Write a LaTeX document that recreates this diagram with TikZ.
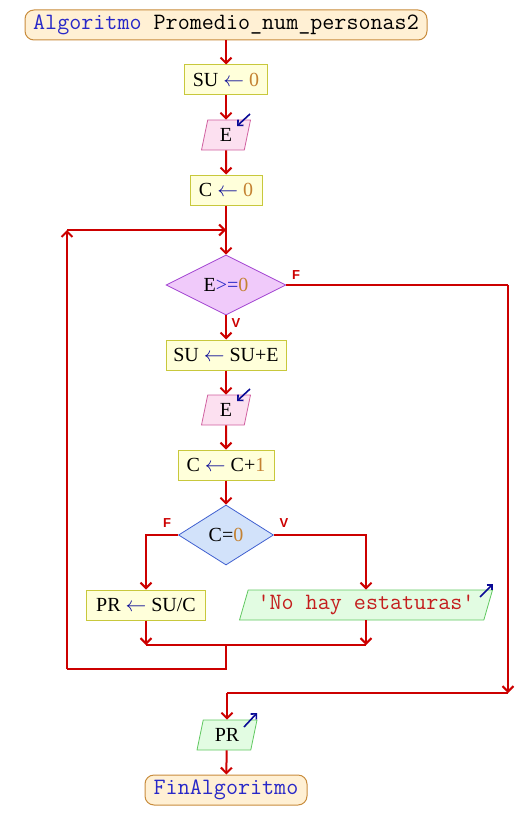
\documentclass[tikz,border=0pt]{standalone}
\usepackage{fontspec}
\setmainfont{Liberation Serif}
\setsansfont{Liberation Sans}
\usetikzlibrary{arrows.meta,shapes.geometric}

\definecolor{flowred}{RGB}{204,0,0}
\definecolor{termfill}{RGB}{255,240,212}
\definecolor{termline}{RGB}{200,140,60}
\definecolor{procfill}{RGB}{255,255,218}
\definecolor{procline}{RGB}{200,200,60}
\definecolor{infill}{RGB}{252,224,240}
\definecolor{inline}{RGB}{208,96,160}
\definecolor{outfill}{RGB}{226,252,226}
\definecolor{outline}{RGB}{96,200,96}
\definecolor{condfill}{RGB}{240,202,250}
\definecolor{condline}{RGB}{160,64,208}
\definecolor{condbfill}{RGB}{210,226,250}
\definecolor{condbline}{RGB}{64,96,208}
\definecolor{kwblue}{RGB}{40,40,200}
\definecolor{arrblue}{RGB}{10,10,150}
\definecolor{numc}{RGB}{196,130,50}
\definecolor{strred}{RGB}{196,30,30}

\newcommand{\asg}{\textcolor{arrblue}{$\leftarrow$}}

\begin{document}
\begin{tikzpicture}[x=1pt,y=-1pt,
  font=\fontsize{20}{24}\selectfont,
  flow/.style={flowred,line width=2pt,-{Straight Barb[length=5.5pt,width=11pt]}},
  wire/.style={flowred,line width=2pt},
  ioarrow/.style={arrblue,line width=1.6pt,-{Straight Barb[length=4pt,width=8pt]}},
  code/.style={font=\fontsize{23.4}{28}\ttfamily},
  term/.style={draw=termline,fill=termfill,rounded corners=9pt,line width=1pt,minimum height=30pt,inner sep=2pt,code},
  proc/.style={draw=procline,fill=procfill,line width=1pt,minimum height=30pt,inner sep=2pt},
  inbox/.style={trapezium,trapezium left angle=70,trapezium right angle=110,trapezium stretches body,draw=inline,fill=infill,line width=0.8pt,minimum height=30pt,inner sep=2pt},
  outbox/.style={inbox,draw=outline,fill=outfill},
  cond/.style={diamond,aspect=2,draw=condline,fill=condfill,line width=0.8pt,inner sep=0pt},
  tf/.style={flowred,font=\fontsize{13}{13}\sffamily\bfseries}]
  \useasboundingbox (0,0) rectangle (516,840); % Fix the page size

  \node (start) at (226,25) [term,minimum width=402pt] {\textcolor{kwblue}{Algoritmo} Promedio\_num\_personas2}; % Start
  \node (su0) at (226,80) [proc,minimum width=83pt] {SU \asg{} \textcolor{numc}{0}}; % SU <- 0
  \node (e1) at (226,135) [inbox,minimum width=49pt] {E}; % Read E
  \node (c0) at (226,190) [proc,minimum width=72pt] {C \asg{} \textcolor{numc}{0}}; % C <- 0
  \node (d1) at (226,285) [cond,minimum width=120pt,minimum height=60pt] {E\textcolor{kwblue}{>=}\textcolor{numc}{0}}; % Loop test
  \node (su1) at (226,355) [proc,minimum width=120pt] {SU \asg{} SU+E}; % SU <- SU+E
  \node (e2) at (226,410) [inbox,minimum width=49pt] {E}; % Read E again
  \node (c1) at (226,465) [proc,minimum width=96pt] {C \asg{} C+\textcolor{numc}{1}}; % C <- C+1
  \node (d2) at (226,535) [cond,draw=condbline,fill=condbfill,minimum width=95pt,minimum height=60pt] {C=\textcolor{numc}{0}}; % Count test
  \node (prsu) at (146,605) [proc,minimum width=119pt] {PR \asg{} SU/C}; % PR <- SU/C
  \node (msg) at (366,605) [outbox,minimum width=253pt,code] {\textcolor{strred}{\textquotesingle No hay estaturas\textquotesingle}}; % Message
  \node (pr) at (227,735) [outbox,minimum width=60pt] {PR}; % Write PR
  \node (fin) at (226,790) [term,minimum width=162pt] {\textcolor{kwblue}{FinAlgoritmo}}; % End

  \node (lf1) at (296,275) [tf] {F}; % Label false
  \node (lv1) at (236,323) [tf] {V}; % Label true
  \node (lf2) at (167,523) [tf] {F}; % Label false
  \node (lv2) at (284,523) [tf] {V}; % Label true

  \coordinate (loopin) at (226,230); % Loop entry
  \coordinate (loopup) at (67,230); % Loop back top
  \coordinate (loopdn) at (67,669); % Loop back bottom
  \coordinate (back) at (226,669); % Below the merge
  \coordinate (merge) at (226,645); % Merge point
  \coordinate (mergeL) at (146,645); % Merge left
  \coordinate (mergeR) at (366,645); % Merge right
  \coordinate (exitR) at (508,285); % Exit right
  \coordinate (exitB) at (508,693); % Exit bottom
  \coordinate (exitL) at (227,693); % Exit left

  \draw[flow] (start) -- (su0); % Main line
  \draw[flow] (su0) -- (e1);
  \draw[flow] (e1) -- (c0);
  \draw[flow] (c0) -- (d1);
  \draw[flow] (d1) -- (su1);
  \draw[flow] (su1) -- (e2);
  \draw[flow] (e2) -- (c1);
  \draw[flow] (c1) -- (d2);
  \draw[flow] (d2.west) -| (prsu.north); % False branch
  \draw[flow] (d2.east) -| (msg.north); % True branch
  \draw[flow] (prsu) -- (mergeL);
  \draw[flow] (msg) -- (mergeR);
  \draw[wire] (mergeL) -- (mergeR);
  \draw[wire] (merge) -- (back) -- (loopdn); % Loop back
  \draw[flow] (loopdn) -- (loopup);
  \draw[flow] (loopup) -- (loopin);
  \draw[wire] (d1.east) -- (exitR); % Leave the loop
  \draw[flow] (exitR) -- (exitB);
  \draw[wire] (exitB) -- (exitL);
  \draw[flow] (exitL) -- (pr);
  \draw[flow] (pr) -- (fin);

  \draw[ioarrow] ([shift={(24,-21)}]e1.center) -- ([shift={(11,-9)}]e1.center); % Input marks
  \draw[ioarrow] ([shift={(24,-21)}]e2.center) -- ([shift={(11,-9)}]e2.center);
  \draw[ioarrow] ([shift={(114,-8)}]msg.center) -- ([shift={(127,-21)}]msg.center); % Output marks
  \draw[ioarrow] ([shift={(17,-8)}]pr.center) -- ([shift={(30,-22)}]pr.center);
\end{tikzpicture}
\end{document}
